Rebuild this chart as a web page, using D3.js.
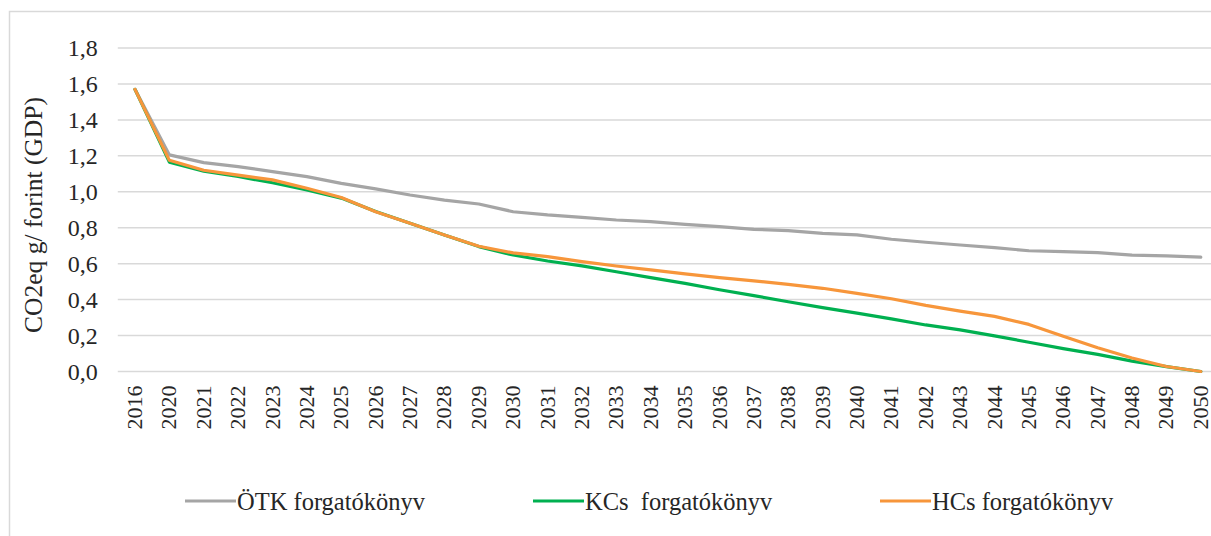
<!DOCTYPE html>
<html>
<head>
<meta charset="utf-8">
<script src="https://cdn.jsdelivr.net/npm/d3@7"></script>
<style>
  body { margin: 0; background: #fff; }
  svg text { font-family: 'Liberation Serif', 'DejaVu Serif', serif !important; fill: #262626; }
</style>
</head>
<body>
<div class="canvas"></div>
<script>
// data
const years = ['2016', '2020', '2021', '2022', '2023', '2024', '2025', '2026', '2027', '2028',
  '2029', '2030', '2031', '2032', '2033', '2034', '2035', '2036', '2037', '2038', '2039',
  '2040', '2041', '2042', '2043', '2044', '2045', '2046', '2047', '2048', '2049', '2050'];

const otk = [1.57, 1.205, 1.162, 1.14, 1.112, 1.084, 1.047, 1.016, 0.982, 0.954, 0.932, 0.889,
  0.871, 0.858, 0.843, 0.834, 0.819, 0.806, 0.791, 0.784, 0.769, 0.76, 0.736, 0.719, 0.704,
  0.689, 0.672, 0.667, 0.661, 0.648, 0.643, 0.636];

const kcs = [1.57, 1.165, 1.115, 1.085, 1.05, 1.01, 0.965, 0.89, 0.825, 0.76, 0.695, 0.648,
  0.615, 0.588, 0.555, 0.522, 0.49, 0.455, 0.422, 0.388, 0.355, 0.325, 0.293, 0.259, 0.232,
  0.198, 0.163, 0.127, 0.095, 0.058, 0.027, 0.0];

const hcs = [1.57, 1.175, 1.12, 1.093, 1.066, 1.02, 0.968, 0.889, 0.825, 0.76, 0.697, 0.66,
  0.639, 0.611, 0.587, 0.565, 0.543, 0.522, 0.504, 0.485, 0.463, 0.435, 0.405, 0.368, 0.336,
  0.307, 0.262, 0.196, 0.132, 0.075, 0.028, 0.0];

const yTicks = [0, 0.2, 0.4, 0.6, 0.8, 1.0, 1.2, 1.4, 1.6, 1.8];

const seriesNames = ['ÖTK forgatókönyv', 'KCs  forgatókönyv', 'HCs forgatókönyv'];
const seriesColors = ['#a5a5a5', '#00b050', '#f7963b'];

const series = [otk, kcs, hcs].map((vals, i) => ({
  name: seriesNames[i],
  color: seriesColors[i],
  values: vals.map((v, j) => ({ year: years[j], value: v }))
}));

const width = 1211, height = 536;

const svg = d3.select('.canvas')
  .append('svg')
  .attr('width', width)
  .attr('height', height);

// outer chart frame (runs past the right and bottom edge)
svg.append('rect')
  .attr('x', 9.5).attr('y', 11.5)
  .attr('width', 1300).attr('height', 600)
  .attr('fill', 'none')
  .attr('stroke', '#d9d9d9')
  .attr('stroke-width', 1.5);

// scales
const x = d3.scaleBand()
  .domain(years)
  .range([117.8, 1218]);

const y = d3.scaleLinear()
  .domain([0, 1.8])
  .range([371.5, 48]);

const cx = d => x(d) + x.bandwidth() / 2;

// gridlines
svg.append('g')
  .selectAll('line')
  .data(yTicks)
  .enter()
  .append('line')
  .attr('x1', 117.8)
  .attr('x2', 1220)
  .attr('y1', d => y(d))
  .attr('y2', d => y(d))
  .attr('stroke', '#d9d9d9')
  .attr('stroke-width', 1.5);

// y axis
const yAxis = d3.axisLeft(y)
  .tickValues(yTicks)
  .tickSize(0)
  .tickPadding(20)
  .tickFormat(d => d3.format('.1f')(d).replace('.', ','));

const yAxisGroup = svg.append('g')
  .attr('transform', 'translate(117.8,0)')
  .call(yAxis);
yAxisGroup.attr('font-family', null);
yAxisGroup.select('.domain').remove();
yAxisGroup.selectAll('text')
  .style('font-size', '24px');

// x axis
const xAxis = d3.axisBottom(x).tickSize(0);
const xAxisGroup = svg.append('g')
  .attr('transform', `translate(0,${y(0)})`)
  .call(xAxis);
xAxisGroup.attr('font-family', null);
xAxisGroup.select('.domain').remove();
xAxisGroup.selectAll('text')
  .attr('transform', 'rotate(-90)')
  .attr('x', -14)
  .attr('y', 0)
  .attr('dy', '0.32em')
  .style('text-anchor', 'end')
  .style('font-size', '22px');

// axis title
svg.append('text')
  .attr('transform', 'translate(33,215) rotate(-90)')
  .attr('text-anchor', 'middle')
  .attr('dominant-baseline', 'central')
  .style('font-size', '25.5px')
  .text('CO2eq g/ forint (GDP)');

// lines
const line = d3.line()
  .x(d => cx(d.year))
  .y(d => y(d.value));

svg.append('g')
  .selectAll('path')
  .data(series)
  .enter()
  .append('path')
  .attr('d', d => line(d.values))
  .attr('fill', 'none')
  .attr('stroke', d => d.color)
  .attr('stroke-width', 3.2)
  .attr('stroke-linejoin', 'round')
  .attr('stroke-linecap', 'round');

// legend
const legendX = [185, 533, 880];
const legend = svg.append('g')
  .selectAll('g')
  .data(series)
  .enter()
  .append('g')
  .attr('transform', (d, i) => `translate(${legendX[i]},501)`);

legend.append('line')
  .attr('x1', 0).attr('x2', 51)
  .attr('stroke', d => d.color)
  .attr('stroke-width', 3.2);

legend.append('text')
  .attr('x', 52)
  .attr('dy', '0.35em')
  .style('font-size', '24.5px')
  .style('white-space', 'pre')
  .text(d => d.name);
</script>
</body>
</html>
